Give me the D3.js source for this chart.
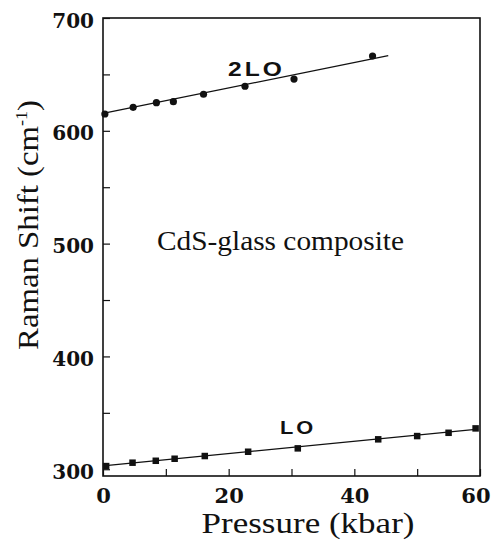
<!DOCTYPE html>
<html>
<head>
<meta charset="utf-8">
<script src="https://cdn.jsdelivr.net/npm/d3@7"></script>
<style>body { margin: 0; padding: 0; background: #fff; }</style>
</head>
<body>
<div id="main"></div>
<script>
// values
const pressure2LO = [0.3, 4.8, 8.5, 11.2, 16.0, 22.6, 30.4, 42.9];
const shift2LO = [614.9, 620.8, 624.9, 625.8, 632.4, 639.5, 645.9, 666.3];
const pressureLO = [0.5, 4.7, 8.4, 11.4, 16.2, 23.1, 31.0, 43.8, 50.0, 55.0, 59.3];
const shiftLO = [302.8, 305.8, 307.5, 309.3, 311.7, 315.5, 318.5, 326.5, 329.4, 332.3, 336.2];
// straight-line fits drawn in the figure
const fit2LOPressure = [0, 45.4];
const fit2LOShift = [615.5, 666.6];
const fitLOPressure = [0, 59.7];
const fitLOShift = [302.9, 335.5];
// ticks
const xTickLabels = [0, 20, 40, 60];
const xMinorTicks = [10, 30, 50];
const yTickLabels = [300, 400, 500, 600, 700];
const yMinorTicks = [350, 450, 550, 650];

const WIDTH = 492, HEIGHT = 546;
const LEFT = 103, RIGHT = 480, TOP = 18, BOTTOM = 476;
const INK = '#111';
const SERIF = "'Liberation Serif', 'Times New Roman', Times, serif";
const TICKFONT = "'DejaVu Serif', serif";
const SANS = "'Liberation Sans', Arial, sans-serif";

const svg = d3.select('#main').append('svg')
    .attr('width', WIDTH)
    .attr('height', HEIGHT)
    .attr('style', 'display:block');

const scaleX = d3.scaleLinear().domain([0, 60]).range([LEFT, RIGHT]);
const scaleY = d3.scaleLinear().domain([294, 700]).range([BOTTOM, TOP]);

const toPoints = (xs, ys) => xs.map((x, i) => ({x: x, y: ys[i]}));

// axes, ticks pointing inward
const axisX = d3.axisBottom(scaleX)
    .tickValues(xTickLabels.concat(xMinorTicks))
    .tickFormat((d) => xTickLabels.includes(d) ? String(d) : '')
    .tickSizeInner(-7)
    .tickSizeOuter(0)
    .tickPadding(12);
const axisY = d3.axisLeft(scaleY)
    .tickValues(yTickLabels.concat(yMinorTicks))
    .tickFormat((d) => yTickLabels.includes(d) ? String(d) : '')
    .tickSizeInner(-7)
    .tickSizeOuter(0)
    .tickPadding(9);

const gx = svg.append('g')
    .attr('transform', `translate(0, ${BOTTOM})`)
    .call(axisX);
const gy = svg.append('g')
    .attr('transform', `translate(${LEFT}, 0)`)
    .call(axisY);

[gx, gy].forEach((g) => {
    g.select('.domain').remove();
    g.selectAll('line').attr('stroke', INK).attr('stroke-width', 1.2);
    g.selectAll('text')
        .attr('fill', INK)
        .attr('font-family', TICKFONT)
        .attr('font-weight', 'bold');
});
gx.selectAll('text').attr('font-size', 21);
gx.selectAll('text').filter((d) => d === 60).attr('text-anchor', 'end').attr('x', 10);
gy.selectAll('text')
    .attr('font-size', 20)
    .attr('dy', '0.45em');

// frame
svg.append('rect')
    .attr('x', LEFT)
    .attr('y', TOP)
    .attr('width', RIGHT - LEFT)
    .attr('height', BOTTOM - TOP)
    .attr('fill', 'none')
    .attr('stroke', INK)
    .attr('stroke-width', 1.6);

// fit lines
const line = d3.line().x((d) => scaleX(d.x)).y((d) => scaleY(d.y));
svg.append('path')
    .datum(toPoints(fit2LOPressure, fit2LOShift))
    .attr('d', line)
    .attr('fill', 'none')
    .attr('stroke', INK)
    .attr('stroke-width', 1.3);
svg.append('path')
    .datum(toPoints(fitLOPressure, fitLOShift))
    .attr('d', line)
    .attr('fill', 'none')
    .attr('stroke', INK)
    .attr('stroke-width', 1.3);

// markers
svg.append('g').selectAll('circle')
    .data(toPoints(pressure2LO, shift2LO))
    .enter().append('circle')
    .attr('cx', (d) => scaleX(d.x))
    .attr('cy', (d) => scaleY(d.y))
    .attr('r', 3.6)
    .attr('fill', INK);
const SQ = 6.5;
svg.append('g').selectAll('rect')
    .data(toPoints(pressureLO, shiftLO))
    .enter().append('rect')
    .attr('x', (d) => scaleX(d.x) - SQ / 2)
    .attr('y', (d) => scaleY(d.y) - SQ / 2)
    .attr('width', SQ)
    .attr('height', SQ)
    .attr('fill', INK);

// stretch a text horizontally so it covers the target width
const fitWidth = (text, target) => {
    const w = text.node().getBBox().width;
    text.attr('transform', `scale(${target / w}, 1)`);
};

// series labels
const label2LO = svg.append('g').attr('transform', 'translate(228, 76)')
    .append('text')
    .text('2LO')
    .attr('font-family', SANS)
    .attr('font-weight', 'bold')
    .attr('font-size', 20)
    .attr('letter-spacing', 2.5)
    .attr('fill', INK);
fitWidth(label2LO, 57);
const labelLO = svg.append('g').attr('transform', 'translate(280, 434)')
    .append('text')
    .text('LO')
    .attr('font-family', SANS)
    .attr('font-weight', 'bold')
    .attr('font-size', 19)
    .attr('letter-spacing', 2.5)
    .attr('fill', INK);
fitWidth(labelLO, 36);

const note = svg.append('g').attr('transform', 'translate(280.5, 250)');
const noteText = note.append('text')
    .text('CdS-glass composite')
    .attr('text-anchor', 'middle')
    .attr('font-family', SERIF)
    .attr('font-size', 28)
    .attr('fill', INK);
fitWidth(noteText, 247);

const xTitle = svg.append('g').attr('transform', 'translate(308, 533)');
const xTitleText = xTitle.append('text')
    .text('Pressure (kbar)')
    .attr('text-anchor', 'middle')
    .attr('font-family', SERIF)
    .attr('font-size', 29)
    .attr('fill', INK);
fitWidth(xTitleText, 213);

const yTitle = svg.append('g').attr('transform', 'translate(38, 225) rotate(-90)');
const yTitleText = yTitle.append('text')
    .attr('text-anchor', 'middle')
    .attr('font-family', SERIF)
    .attr('font-size', 29)
    .attr('fill', INK);
yTitleText.append('tspan').text('Raman Shift (cm');
yTitleText.append('tspan').text('-1').attr('font-size', 16).attr('dy', -11);
yTitleText.append('tspan').text(')').attr('dy', 11);
fitWidth(yTitleText, 250);
</script>
</body>
</html>
